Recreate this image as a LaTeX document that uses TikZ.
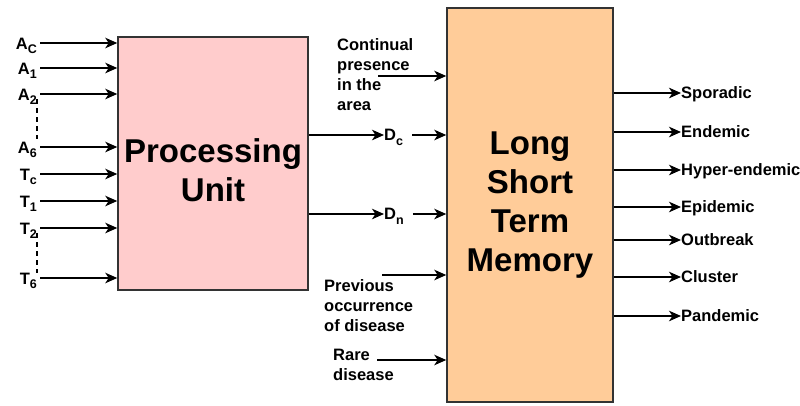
\documentclass[tikz,border=0pt]{standalone}
\usepackage{fontspec}
\setmainfont{Liberation Sans}
\usetikzlibrary{arrows.meta}
\definecolor{pufill}{HTML}{FFCCCC}
\definecolor{lsfill}{HTML}{FFCC99}
\definecolor{edgecol}{HTML}{333333}
\newcommand\mysub[1]{\raisebox{-0.28em}{\fontsize{12.5}{12.5}\selectfont #1}}
\begin{document}
\begin{tikzpicture}[x=1pt,y=-1pt,
  box/.style={draw=edgecol,line width=1.5pt,inner sep=0pt},
  arr/.style={line width=1.8pt,-{Stealth[length=12pt,width=10.5pt,inset=3.5pt]}},
  lbl/.style={font=\fontsize{16.5}{20}\selectfont\bfseries,inner sep=0pt},
  olbl/.style={lbl,text height=11.8pt,text depth=0pt},
  big/.style={font=\fontsize{33}{39}\selectfont\bfseries,align=center}]
\useasboundingbox[fill=white] (0,0) rectangle (800,405);
% boxes
\node[box,fill=pufill,minimum width=190pt,minimum height=253pt] (pu) at (213,163.5) {};
\node[big,inner sep=0pt] (put) at (213,170) {Processing\\Unit};
\node[box,big,fill=lsfill,minimum width=166pt,minimum height=394pt] (lstm) at (530,205) {Long\\Short\\Term\\Memory};
% left inputs
\foreach \n/\t/\y in {ac/{A\mysub{C}}/43, a1/{A\mysub{1}}/68, a2/{A\mysub{2}}/94, a6/{A\mysub{6}}/147, tc/{T\mysub{c}}/174, t1/{T\mysub{1}}/201, t2/{T\mysub{2}}/228, t6/{T\mysub{6}}/278}{
  \coordinate (s\n) at (40,\y);
  \node[lbl,anchor=base east] (l\n) at (37,\y+6) {\t};
  \draw[arr] (s\n) -- (s\n -| pu.west);
}
\coordinate (d1a) at (37,99);
\coordinate (d1b) at (37,139);
\coordinate (d2a) at (37,233);
\coordinate (d2b) at (37,273);
\draw[line width=1.8pt,dash pattern=on 5pt off 4pt] (d1a) -- (d1b);
\draw[line width=1.8pt,dash pattern=on 5pt off 4pt] (d2a) -- (d2b);
% processing outputs
\node[olbl,anchor=west] (dc) at (384,135) {D\mysub{c}};
\node[olbl,anchor=west] (dn) at (384,214) {D\mysub{n}};
\draw[arr] (pu.east |- dc.west) -- (dc.west);
\draw[arr] (pu.east |- dn.west) -- (dn.west);
\draw[arr] ([xshift=9pt]dc.east) -- (lstm.west |- dc.east);
\draw[arr] ([xshift=9pt]dn.east) -- (lstm.west |- dn.east);
% other inputs
\node[lbl,align=left,anchor=north west] (cont) at (337,38) {Continual\\presence\\in the\\area};
\coordinate (cin) at (378,76);
\draw[arr] (cin) -- (cin -| lstm.west);
\node[lbl,align=left,anchor=north west] (prev) at (324,279) {Previous\\occurrence\\of disease};
\coordinate (pin) at (382,275);
\draw[arr] (pin) -- (pin -| lstm.west);
\node[lbl,align=left,anchor=north west] (rare) at (333,349) {Rare\\disease};
\coordinate (rin) at (377,360);
\draw[arr] (rin) -- (rin -| lstm.west);
% outputs
\foreach \n/\t/\y in {sp/Sporadic/93, en/Endemic/132, hy/Hyper-endemic/170, ep/Epidemic/207, ou/Outbreak/240, cl/Cluster/277, pa/Pandemic/316}{
  \node[olbl,anchor=west] (o\n) at (681,\y) {\t};
  \draw[arr] (lstm.east |- o\n.west) -- (o\n.west);
}
\end{tikzpicture}
\end{document}
